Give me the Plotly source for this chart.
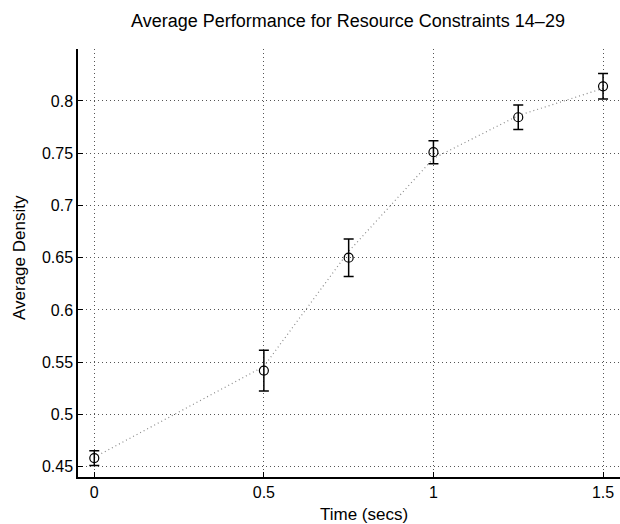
import plotly.graph_objects as go

time_s = [0, 0.5, 0.75, 1.0, 1.25, 1.5]
avg_density = [0.4583, 0.542, 0.650, 0.751, 0.7844, 0.814]
err_density = [0.007, 0.0195, 0.018, 0.011, 0.0118, 0.0122]
trend_density = [0.459, 0.546, 0.656, 0.745, 0.786, 0.812]

x_ticks = [0, 0.5, 1, 1.5]
x_tick_labels = ["0", "0.5", "1", "1.5"]
y_ticks = [0.45, 0.5, 0.55, 0.6, 0.65, 0.7, 0.75, 0.8]
y_tick_labels = ["0.45", "0.5", "0.55", "0.6", "0.65", "0.7", "0.75", "0.8"]

font = "Liberation Sans, Arial, Helvetica, sans-serif"
W, H = 620, 524
ML, MR, MT, MB = 78, 0, 49, 47

fig = go.Figure()
fig.add_trace(go.Scatter(
    x=time_s, y=trend_density, mode="lines",
    line=dict(color="#8a8a8a", width=1.2, dash="1px,3px"),
    hoverinfo="skip", showlegend=False))
fig.add_trace(go.Scatter(
    x=time_s, y=avg_density, mode="markers",
    marker=dict(symbol="circle-open", size=9, color="black", line=dict(width=1.2, color="black")),
    error_y=dict(type="data", array=err_density, visible=True, color="black", thickness=1.5, width=5),
    showlegend=False))

plot_h = H - MT - MB
plot_w = W - ML - MR
def ypix(p):
    return (H - MB - p) / plot_h
def xpix(p):
    return (p - ML) / plot_w

fig.update_layout(
    width=W, height=H,
    margin=dict(l=ML, r=MR, t=MT, b=MB, autoexpand=False),
    paper_bgcolor="white", plot_bgcolor="white",
    font=dict(family=font, color="black", size=16),
)
fig.add_annotation(text="Average Performance for Resource Constraints 14\u201329",
                   x=xpix(348), y=ypix(21), xref="paper", yref="paper",
                   showarrow=False, font=dict(size=18), xanchor="center", yanchor="middle")
fig.add_annotation(text="Time (secs)", x=xpix(364), y=ypix(514), xref="paper", yref="paper",
                   showarrow=False, font=dict(size=17), xanchor="center", yanchor="middle")
fig.add_annotation(text="Average Density", x=xpix(19), y=ypix(258), xref="paper", yref="paper",
                   showarrow=False, font=dict(size=17), textangle=-90, xanchor="center", yanchor="middle")

fig.update_xaxes(range=[-0.048, 1.55], tickvals=x_ticks, ticktext=x_tick_labels,
                 showline=True, linecolor="black", linewidth=1.5, mirror=False,
                 ticks="inside", ticklen=5, tickcolor="black", tickwidth=1,
                 showgrid=True, gridcolor="#555555", griddash="1px,3px", gridwidth=1,
                 zeroline=False, tickfont=dict(size=16), automargin=False)
fig.update_yaxes(range=[0.4402, 0.8497], tickvals=y_ticks, ticktext=y_tick_labels,
                 showline=True, linecolor="black", linewidth=1.5, mirror=False,
                 ticks="inside", ticklen=5, tickcolor="black", tickwidth=1,
                 showgrid=True, gridcolor="#555555", griddash="1px,3px", gridwidth=1,
                 zeroline=False, tickfont=dict(size=16), automargin=False)

fig.write_html("out.html", config={"displayModeBar": False},
               post_script="document.body.style.margin='0';document.body.style.overflow='hidden';")
